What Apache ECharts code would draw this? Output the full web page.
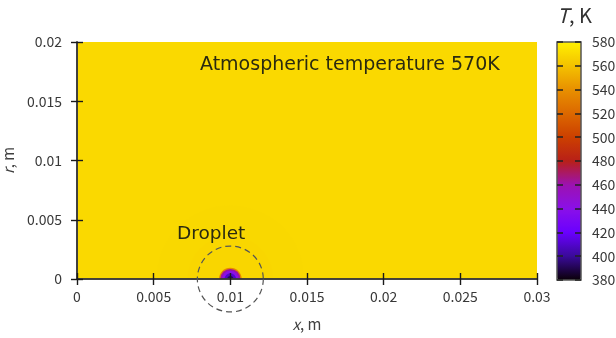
<!DOCTYPE html>
<html>
<head>
<meta charset="utf-8">
<script src="https://cdn.jsdelivr.net/npm/echarts@6/dist/echarts.min.js"></script>
<style>
  html, body { margin: 0; padding: 0; background: #fff; }
  #eChart { width: 616px; height: 338px; }
</style>
</head>
<body>
<div id="eChart"></div>
<script>
// domain of the computation, m
const xRange = [0, 0.03];
const rRange = [0, 0.02];
const xTickStep = 0.005;
const rTickStep = 0.005;

// temperature scale, K
const tempRange = [380, 580];
const tempTickStep = 20;
const tempColors = [
  "#0a0008", "#3a0a9a", "#6a00ff", "#8a10e8", "#9c12b0", "#b82018",
  "#cc4000", "#dc6800", "#e89000", "#f4c200", "#fff000",
];

// ambient temperature of the gas
const ambientTemp = 570;

// droplet sitting on the axis at x = 0.01, radial profile
const dropletX = 0.01;
const ringRadius = [0.0048, 0.0028, 0.00074, 0.00066, 0.00054, 0.00038, 0.0002];
const ringTemp = [569.4, 568.8, 535, 462, 440, 410, 392];

// dashed marker circle around the droplet
const markerRadius = 0.00215;

const FONT = "'Noto Sans CJK JP', 'Noto Sans', sans-serif";
const NOTE_FONT = "'DejaVu Sans', sans-serif";

const fieldData = [[ambientTemp, xRange[0], rRange[0], xRange[1], rRange[1]]];
const dropletData = ringRadius.map((r, i) => [ringTemp[i], dropletX, 0, r]);

const tickStyle = { show: true, inside: true, length: 6, lineStyle: { color: "#1a1a1a", width: 1.4 } };
const lineStyle = { show: true, lineStyle: { color: "#3a3a3a", width: 1.6 } };
const labelStyle = { color: "#383838", fontSize: 14, fontFamily: FONT };

const myChart = echarts.init(document.getElementById("eChart"), null, { renderer: "canvas" });

myChart.setOption({
  animation: false,
  grid: [
    { left: 77, top: 42, width: 460, height: 237, outerBoundsMode: "none", containLabel: false },
    {
      left: 557, top: 42, width: 24, height: 238, outerBoundsMode: "none", containLabel: false,
      show: true, borderColor: "#555", borderWidth: 1.5, z: 6,
    },
  ],
  xAxis: [
    {
      type: "value", gridIndex: 0, position: "bottom", z: 5,
      min: xRange[0], max: xRange[1], interval: xTickStep,
      axisLine: lineStyle, axisTick: tickStyle, splitLine: { show: false },
      axisLabel: { ...labelStyle, margin: 11 },
      name: "{i|x}, m", nameLocation: "middle", nameGap: 38,
      nameTextStyle: {
        color: "#404040", fontSize: 15, fontFamily: FONT,
        rich: { i: { fontStyle: "italic", fontSize: 15, color: "#404040", fontFamily: FONT } },
      },
    },
    {
      type: "value", gridIndex: 0, position: "top", z: 5,
      min: xRange[0], max: xRange[1], interval: xTickStep,
      axisLine: lineStyle, axisTick: tickStyle, splitLine: { show: false },
      axisLabel: { show: false },
    },
    { type: "value", gridIndex: 1, show: false, min: 0, max: 1 },
  ],
  yAxis: [
    {
      type: "value", gridIndex: 0, position: "left", z: 5,
      min: rRange[0], max: rRange[1], interval: rTickStep,
      axisLine: lineStyle, axisTick: tickStyle, splitLine: { show: false },
      axisLabel: { ...labelStyle, margin: 15 },
      name: "{i|r}, m", nameLocation: "middle", nameGap: 54,
      nameTextStyle: {
        color: "#404040", fontSize: 15, fontFamily: FONT,
        rich: { i: { fontStyle: "italic", fontSize: 15, color: "#404040", fontFamily: FONT } },
      },
    },
    {
      type: "value", gridIndex: 0, position: "right", z: 5,
      min: rRange[0], max: rRange[1], interval: rTickStep,
      axisLine: lineStyle, axisTick: tickStyle, splitLine: { show: false },
      axisLabel: { show: false },
    },
    {
      type: "value", gridIndex: 1, position: "left", z: 7,
      min: tempRange[0], max: tempRange[1], interval: tempTickStep,
      axisLine: { show: false }, splitLine: { show: false },
      axisTick: { show: true, inside: true, length: 6, lineStyle: { color: "#222", width: 1.5 } },
      axisLabel: { show: false },
    },
    {
      type: "value", gridIndex: 1, position: "right", z: 7,
      min: tempRange[0], max: tempRange[1], interval: tempTickStep,
      axisLine: { show: false }, splitLine: { show: false },
      axisTick: { show: true, inside: true, length: 6, lineStyle: { color: "#222", width: 1.5 } },
      axisLabel: { ...labelStyle, fontSize: 14, margin: 11 },
    },
  ],
  visualMap: {
    type: "continuous",
    seriesIndex: [0, 1],
    dimension: 0,
    min: tempRange[0],
    max: tempRange[1],
    calculable: false,
    hoverLink: false,
    orient: "vertical",
    left: 557,
    top: 42,
    padding: 0,
    itemWidth: 24,
    itemHeight: 238,
    inRange: { color: tempColors },
  },
  series: [
    {
      type: "custom",
      xAxisIndex: 0, yAxisIndex: 0,
      encode: { x: [1, 3], y: [2, 4] },
      data: fieldData,
      z: 1,
      renderItem: function (params, api) {
        const p0 = api.coord([api.value(1), api.value(4)]);
        const p1 = api.coord([api.value(3), api.value(2)]);
        return {
          type: "rect",
          shape: { x: p0[0], y: p0[1], width: p1[0] - p0[0], height: p1[1] - p0[1] },
          style: { fill: api.visual("color") },
        };
      },
    },
    {
      // upper half of each ring (r >= 0 only)
      type: "custom",
      xAxisIndex: 0, yAxisIndex: 0,
      encode: { x: 1, y: 2 },
      data: dropletData,
      z: 2,
      renderItem: function (params, api) {
        const c = api.coord([api.value(1), api.value(2)]);
        const r = api.size([api.value(3), 0])[0];
        return {
          type: "sector",
          shape: { cx: c[0], cy: c[1], r0: 0, r: r, startAngle: Math.PI, endAngle: 2 * Math.PI, clockwise: true },
          style: { fill: api.visual("color") },
        };
      },
    },
    {
      type: "custom",
      xAxisIndex: 0, yAxisIndex: 0,
      encode: { x: 0, y: 1 },
      data: [[dropletX, 0, markerRadius]],
      clip: false,
      z: 8,
      renderItem: function (params, api) {
        const c = api.coord([api.value(0), api.value(1)]);
        const r = api.size([api.value(2), 0])[0];
        return {
          type: "circle",
          shape: { cx: c[0], cy: c[1], r: r },
          style: { fill: null, stroke: "#555", lineWidth: 1.2, lineDash: [6, 4] },
        };
      },
    },
  ],
  graphic: [
    {
      type: "text", left: 200, top: 56, z: 10,
      style: { text: "Atmospheric temperature 570K", fill: "#2a2a10", fontSize: 19, fontFamily: NOTE_FONT },
    },
    {
      type: "text", left: 177, top: 225, z: 10,
      style: { text: "Droplet", fill: "#2a2a10", fontSize: 18.5, fontFamily: NOTE_FONT },
    },
    {
      type: "text", left: 557, top: 5, z: 10,
      style: {
        text: "{i|T}, K", fill: "#333", fontSize: 20, fontFamily: FONT,
        rich: { i: { fontStyle: "italic", fontSize: 20, fill: "#333", fontFamily: FONT } },
      },
    },
  ],
});
</script>
</body>
</html>
